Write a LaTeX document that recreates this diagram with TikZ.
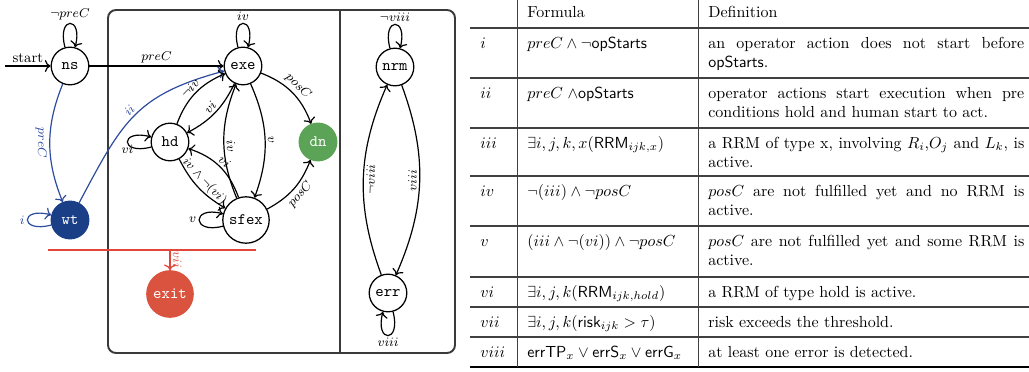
\documentclass[tikz,border=0pt]{standalone}
\usepackage{amsmath,amssymb}
\usetikzlibrary{arrows.meta}
\definecolor{wtblue}{HTML}{1B3F87}
\definecolor{blueedge}{HTML}{2E4C9E}
\definecolor{dngreen}{HTML}{5BA356}
\definecolor{exitred}{HTML}{DA533E}
\definecolor{redline}{HTML}{E2463A}
\definecolor{framegray}{HTML}{3A3A3A}
\begin{document}
\begin{tikzpicture}[x=0.625pt,y=-0.625pt,
  st/.style={circle, draw, line width=0.8pt, minimum size=23.5pt, inner sep=1pt, font=\ttfamily},
  tr/.style={-{To[scale=1.1]}, line width=0.75pt},
  lbl/.style={font=\footnotesize, inner sep=1.5pt},
  lp/.style={min distance=7.2mm},
  frame/.style={draw=framegray, line width=1.2pt},
  tcell/.style={anchor=base west, inner sep=0pt, font=\normalsize},
  rowrule/.style={draw=black!75, line width=0.9pt},
  colrule/.style={draw=black!75, line width=0.6pt}]
\useasboundingbox (0,0) rectangle (1029,372);

% ---------- frame ----------
\draw[frame, rounded corners=5pt] (108,10) rectangle (455,353);
\draw[frame] (340,10) -- (340,353);

% ---------- nodes ----------
\node[st] (ns) at (70,66) {ns};
\node[st] (exe) at (243,66) {exe};
\node[st] (hd) at (170,142) {hd};
\node[st, fill=dngreen, draw=dngreen, text=white] (dn) at (318,142) {dn};
\node[st, minimum size=29pt] (sfex) at (246,220) {sfex};
\node[st, fill=wtblue, draw=wtblue, text=white] (wt) at (70,220) {wt};
\node[st, fill=exitred, draw=exitred, text=white, minimum size=29pt] (exit) at (170,294) {exit};
\node[st] (nrm) at (395,67) {nrm};
\node[st] (err) at (388,293) {err};

\coordinate (s0) at (5,66);
\coordinate (rl) at (48,250);
\coordinate (rr) at (256,250);
\coordinate (rv) at (170,250);

% ---------- edges ----------
\draw[tr] (s0) -- node[above, font=\small, inner sep=2pt] {start} (ns);
\draw[tr] (ns) -- node[lbl, above] {$preC$} (exe);
\draw[tr] (ns) to[loop above, lp] node[lbl, above] {$\neg preC$} (ns);

\draw[tr, blueedge] (ns) to[bend right=22] node[lbl, sloped, auto, swap, text=blueedge] {$preC$} (wt);
\draw[tr, blueedge] (wt) to[out=62, in=195, looseness=1.2] node[lbl, sloped, above, pos=0.5, text=blueedge] {$ii$} (exe);
\draw[tr, blueedge] (wt) to[loop left, lp] node[lbl, left, text=blueedge] {$i$} (wt);

\draw[tr] (exe) to[loop above, lp] node[lbl, above] {$iv$} (exe);
\draw[tr] (exe) to[bend left=24] node[lbl, sloped, above] {$posC$} (dn);
\draw[tr] (sfex) to[bend right=20] node[lbl, sloped, below] {$posC$} (dn);
\draw[tr] (hd) to[bend left=23] node[lbl, sloped, above] {$\neg iv$} (exe);
\draw[tr] (exe) to[bend left=18] node[lbl, sloped, above] {$vi$} (hd);
\draw[tr] (hd) to[bend right=16] node[lbl, sloped, above, inner sep=1pt] {$iv\wedge\neg(vi)$} (sfex);
\draw[tr] (sfex) to[bend right=26] node[lbl, sloped, above, pos=0.5] {$vi$} (hd);
\draw[tr] (sfex) to[bend left=22] node[lbl, sloped, above, pos=0.45] {$iv$} (exe);
\draw[tr] (exe) to[bend left=22] node[lbl, sloped, above] {$v$} (sfex);
\draw[tr] (hd) to[loop left, lp] node[lbl, below] {$vi$} (hd);
\draw[tr] (sfex) to[loop left, lp] node[lbl, left] {$v$} (sfex);

\draw[draw=redline, line width=0.8pt] (rl) -- (rr);
\draw[tr, redline] (rv) -- node[lbl, sloped, auto, text=redline] {$vii$} (exit);

\draw[tr] (nrm) to[loop above, lp] node[lbl, above] {$\neg viii$} (nrm);
\draw[tr] (err) to[loop below, lp] node[lbl, below] {$viii$} (err);
\draw[tr] (err) to[bend left=22] node[lbl, sloped, below] {$\neg viii$} (nrm);
\draw[tr] (nrm) to[bend left=22] node[lbl, sloped, above] {$viii$} (err);

% ---------- table ----------
\foreach \yy in {28,78,128,176,226,277,307,337} {
  \draw[rowrule] (470,\yy) -- (1029,\yy);
}
\draw[draw=black, line width=1.5pt] (470,367) -- (1029,367);
\draw[colrule] (517,0) -- (517,367);
\draw[colrule] (698,0) -- (698,367);

\node[tcell] (hF) at (527,18) {Formula};
\node[tcell] (hD) at (708,18) {Definition};

\node[tcell] (i1) at (480,48.5) {$i$};
\node[tcell] (i2) at (480,98.5) {$ii$};
\node[tcell] (i3) at (480,148.5) {$iii$};
\node[tcell] (i4) at (480,196.5) {$iv$};
\node[tcell] (i5) at (480,246.5) {$v$};
\node[tcell] (i6) at (480,297.5) {$vi$};
\node[tcell] (i7) at (480,327.5) {$vii$};
\node[tcell] (i8) at (480,357.5) {$viii$};

\node[tcell] (f1) at (527,48.5) {$preC \wedge \neg\mathsf{opStarts}$};
\node[tcell] (f2) at (527,98.5) {$preC\;{\wedge}\mathsf{opStarts}$};
\node[tcell] (f3) at (527,148.5) {$\exists i,j,k,x(\mathsf{RRM}_{ijk,x})$};
\node[tcell] (f4) at (527,196.5) {$\neg(iii) \wedge \neg posC$};
\node[tcell] (f5) at (527,246.5) {$(iii \wedge \neg(vi)) \wedge \neg posC$};
\node[tcell] (f6) at (527,297.5) {$\exists i,j,k(\mathsf{RRM}_{ijk,hold})$};
\node[tcell] (f7) at (527,327.5) {$\exists i,j,k(\mathsf{risk}_{ijk} > \tau)$};
\node[tcell] (f8) at (527,357.5) {$\mathsf{errTP}_x \vee \mathsf{errS}_x \vee \mathsf{errG}_x$};

\node[tcell, text width=197.5pt, align=justify] (d1) at (708,48.5) {an operator action does not start before\linebreak $\mathsf{opStarts}$.};
\node[tcell, text width=197.5pt, align=justify] (d2) at (708,98.5) {operator actions start execution when pre\linebreak conditions hold and human start to act.};
\node[tcell, text width=197.5pt, align=justify] (d3) at (708,148.5) {a RRM of type x, involving $R_i$,$O_j$ and $L_k$, is\linebreak active.};
\node[tcell, text width=197.5pt, align=justify] (d4) at (708,196.5) {$posC$ are not fulfilled yet and no RRM is\linebreak active.};
\node[tcell, text width=197.5pt, align=justify] (d5) at (708,246.5) {$posC$ are not fulfilled yet and some RRM is\linebreak active.};
\node[tcell] (d6) at (708,297.5) {a RRM of type hold is active.};
\node[tcell] (d7) at (708,327.5) {risk exceeds the threshold.};
\node[tcell] (d8) at (708,357.5) {at least one error is detected.};
\end{tikzpicture}
\end{document}
